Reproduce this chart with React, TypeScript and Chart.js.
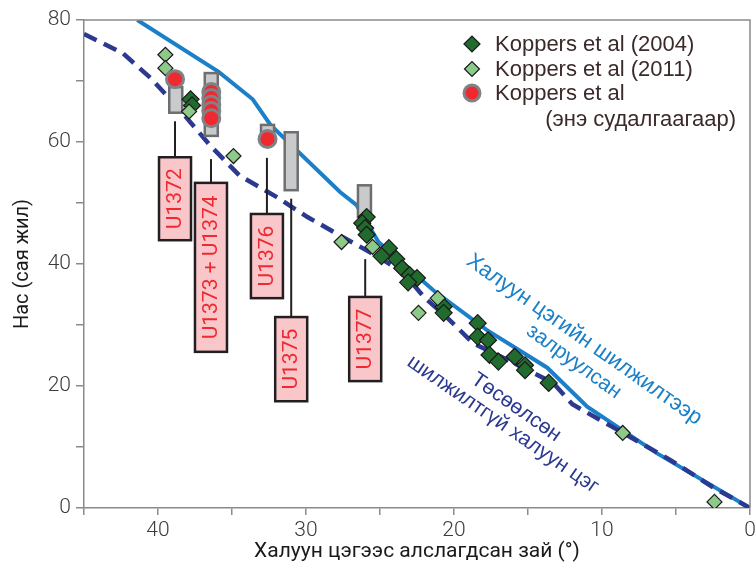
import React, { useEffect, useRef } from 'react';
import { Chart, registerables } from 'chart.js';

Chart.register(...registerables);

// ---- Data (x: distance from hotspot in degrees, y: age in Ma) ----
const hotspotCorrectedX = [41.4, 35.9, 33.6, 32.4, 27.7, 26.6, 25.1, 21.4, 17.8, 13.7, 11.0, 6.3, 0];
const hotspotCorrectedY = [80, 71.5, 67.0, 62.8, 51.8, 49.7, 43.6, 35.7, 29.2, 23.0, 16.6, 9.0, 0];

const fixedHotspotX = [45, 42.4, 40.5, 38.5, 36.5, 34.5, 32.0, 29.9, 27.5, 25.0, 23.4, 22.0, 20.5, 18.7, 16.4, 13.3, 12.0, 9.3, 5.4, 2.5, 0];
const fixedHotspotY = [77.7, 74.6, 70.5, 65.2, 59.5, 54.5, 51.0, 47.7, 44.4, 41.0, 38.5, 34.5, 31.3, 27.0, 24.3, 20.5, 17.0, 13.3, 7.9, 3.4, 0];

const koppers2004X = [37.8, 37.7, 25.9, 26.2, 26.0, 25.9, 24.4, 24.9, 23.9, 23.5, 23.0, 22.5, 23.1, 20.7, 20.7, 18.4, 18.4, 17.7, 17.6, 17.0, 15.9, 15.2, 15.2, 13.6];
const koppers2004Y = [67.0, 66.0, 47.7, 46.7, 45.9, 44.8, 42.6, 41.3, 40.8, 39.3, 38.2, 37.7, 37.0, 33.0, 32.0, 30.3, 28.1, 27.5, 25.1, 24.0, 24.8, 23.4, 22.6, 20.5];

const koppers2011X = [39.5, 39.5, 37.9, 34.9, 27.6, 25.5, 21.1, 22.4, 8.6, 2.4];
const koppers2011Y = [74.3, 72.1, 65.0, 57.7, 43.6, 42.8, 34.4, 32.0, 12.3, 1.0];

const thisStudyX = [38.85, 36.4, 36.4, 36.4, 36.4, 36.4, 32.6];
const thisStudyY = [70.3, 68.2, 67.2, 66.1, 65.1, 63.9, 60.5];

// grey age-range bars
const ageBarX = [38.8, 36.4, 32.6, 31.0, 26.05];
const ageBarTop = [69.0, 71.3, 62.8, 61.6, 52.9];
const ageBarBottom = [64.8, 61.0, 60.0, 52.1, 47.7];

// site call-outs
const siteLabels = ['U1372', 'U1373 + U1374', 'U1376', 'U1375', 'U1377'];
const siteX = [38.85, 36.42, 32.64, 31.0, 26.0];
const siteLineTop = [63.4, 57.2, 57.4, 50.7, 40.8];
const siteBoxTop = [57.5, 53.3, 48.2, 31.3, 34.6];
const siteBoxBottom = [43.9, 25.6, 34.4, 17.5, 20.8];

// curve labels
const curveLabelText = ['Халуун цэгийн шилжилтээр', 'залруулсан', 'Төсөөлсөн', 'шилжилтгүй халуун цэг'];
const curveLabelX = [11.2, 11.9, 15.8, 16.7];
const curveLabelY = [27.6, 24.0, 16.5, 13.7];

const legendLabels = ['Koppers et al (2004)', 'Koppers et al (2011)', 'Koppers et al', '(энэ судалгаагаар)'];

const xTitle = 'Халуун цэгээс алслагдсан зай (°)';
const yTitle = 'Нас (сая жил)';

const toPts = (xs: number[], ys: number[]) => xs.map((x, i) => ({ x, y: ys[i] }));

const BLUE = '#1b80c8';
const NAVY = '#2b3990';
const DARK_GREEN = '#226b2f';
const LIGHT_GREEN = '#8dca8a';
const RED = '#ee2a30';
const AXIS = '#8a8a8a';

function drawDiamond(ctx: CanvasRenderingContext2D, x: number, y: number, r: number, fill: string) {
  ctx.beginPath();
  ctx.moveTo(x - r, y);
  ctx.lineTo(x, y - r);
  ctx.lineTo(x + r, y);
  ctx.lineTo(x, y + r);
  ctx.closePath();
  ctx.fillStyle = fill;
  ctx.fill();
  ctx.strokeStyle = '#1a1a1a';
  ctx.lineWidth = 1.2;
  ctx.stroke();
}

const overlayPlugin = {
  id: 'overlay',
  afterDatasetDraw(chart: any, args: any) {
    if (args.meta.label !== 'fixed') return;
    const { ctx, scales } = chart;
    const xs = scales.x, ys = scales.y;
    ctx.save();
    for (let i = 0; i < ageBarX.length; i++) {
      const cx = xs.getPixelForValue(ageBarX[i]);
      const t = ys.getPixelForValue(ageBarTop[i]);
      const b = ys.getPixelForValue(ageBarBottom[i]);
      const w = 13;
      ctx.fillStyle = '#c9cacc';
      ctx.strokeStyle = '#6d6e70';
      ctx.lineWidth = 2.5;
      ctx.fillRect(cx - w / 2, t, w, b - t);
      ctx.strokeRect(cx - w / 2, t, w, b - t);
    }
    ctx.restore();
  },
  afterDatasetsDraw(chart: any) {
    const { ctx, scales } = chart;
    const xs = scales.x, ys = scales.y;
    ctx.save();
    // call-outs
    for (let i = 0; i < siteLabels.length; i++) {
      const cx = xs.getPixelForValue(siteX[i]);
      const lt = ys.getPixelForValue(siteLineTop[i]);
      const bt = ys.getPixelForValue(siteBoxTop[i]);
      const bb = ys.getPixelForValue(siteBoxBottom[i]);
      const w = 32;
      ctx.strokeStyle = '#231f20';
      ctx.lineWidth = 2;
      ctx.beginPath();
      ctx.moveTo(cx, lt);
      ctx.lineTo(cx, bt);
      ctx.stroke();
      ctx.fillStyle = '#f9c6ca';
      ctx.fillRect(cx - w / 2, bt, w, bb - bt);
      ctx.lineWidth = 2.5;
      ctx.strokeRect(cx - w / 2, bt, w, bb - bt);
      ctx.save();
      ctx.translate(cx, (bt + bb) / 2);
      ctx.rotate(-Math.PI / 2);
      ctx.fillStyle = '#ee2a30';
      ctx.font = '400 21px Roboto, "Liberation Sans", sans-serif';
      ctx.textAlign = 'center';
      ctx.textBaseline = 'middle';
      ctx.fillText(siteLabels[i], 0, 1);
      ctx.restore();
    }
    // curve labels
    const colors = [BLUE, BLUE, NAVY, NAVY];
    const angles = [35, 36, 35, 34.5];
    const sizes = [22, 21, 21, 21];
    for (let i = 0; i < curveLabelText.length; i++) {
      const px = xs.getPixelForValue(curveLabelX[i]);
      const py = ys.getPixelForValue(curveLabelY[i]);
      ctx.save();
      ctx.translate(px, py);
      ctx.rotate((angles[i] * Math.PI) / 180);
      ctx.fillStyle = colors[i];
      ctx.font = sizes[i] + 'px "Liberation Sans", Arial, sans-serif';
      ctx.textAlign = 'center';
      ctx.textBaseline = 'middle';
      ctx.fillText(curveLabelText[i], 0, 0);
      ctx.restore();
    }
    ctx.restore();
  },
  afterDraw(chart: any) {
    const { ctx, chartArea } = chart;
    ctx.save();
    // frame top & right
    ctx.strokeStyle = AXIS;
    ctx.lineWidth = 1.5;
    ctx.beginPath();
    ctx.moveTo(chartArea.left, chartArea.top);
    ctx.lineTo(chartArea.right, chartArea.top);
    ctx.lineTo(chartArea.right, chartArea.bottom);
    ctx.stroke();
    // legend
    const lx = 472;
    const rows = [44, 69, 93];
    drawDiamond(ctx, lx, rows[0], 8, DARK_GREEN);
    drawDiamond(ctx, lx, rows[1], 7.5, LIGHT_GREEN);
    ctx.beginPath();
    ctx.arc(lx, rows[2], 8, 0, Math.PI * 2);
    ctx.fillStyle = RED;
    ctx.fill();
    ctx.strokeStyle = '#808285';
    ctx.lineWidth = 3;
    ctx.stroke();
    ctx.fillStyle = '#3b2a2a';
    ctx.font = '22px "Liberation Sans", Arial, sans-serif';
    ctx.textBaseline = 'middle';
    ctx.textAlign = 'left';
    ctx.fillText(legendLabels[0], 495, rows[0] + 1);
    ctx.fillText(legendLabels[1], 495, rows[1] + 1);
    ctx.fillText(legendLabels[2], 495, rows[2] + 1);
    ctx.textAlign = 'right';
    ctx.fillText(legendLabels[3], 736, 120);
    ctx.restore();
  },
};

export default function App() {
  const ref = useRef<HTMLCanvasElement | null>(null);

  useEffect(() => {
    if (!ref.current) return;
    const tickFont = { family: 'Roboto, "Liberation Sans", sans-serif', size: 21, weight: 300 as any };
    const titleFont = { family: 'Roboto, "Liberation Sans", sans-serif', size: 21, weight: 400 as any };
    const chart = new Chart(ref.current, {
      type: 'scatter',
      data: {
        datasets: [
          {
            label: 'thisStudy',
            data: toPts(thisStudyX, thisStudyY),
            pointStyle: 'circle',
            pointRadius: 8.5,
            backgroundColor: RED,
            borderColor: '#808285',
            borderWidth: 3,
            order: 1,
          },
          {
            label: 'k2011',
            data: toPts(koppers2011X, koppers2011Y),
            pointStyle: 'rectRot',
            pointRadius: 7.5,
            backgroundColor: LIGHT_GREEN,
            borderColor: '#1a1a1a',
            borderWidth: 1.2,
            order: 2,
          },
          {
            label: 'k2004',
            data: toPts(koppers2004X, koppers2004Y),
            pointStyle: 'rectRot',
            pointRadius: 8.5,
            backgroundColor: DARK_GREEN,
            borderColor: '#1a1a1a',
            borderWidth: 1.2,
            order: 3,
          },
          {
            label: 'fixed',
            type: 'line',
            data: toPts(fixedHotspotX, fixedHotspotY),
            borderColor: NAVY,
            borderWidth: 4.5,
            borderDash: [14, 8],
            pointRadius: 0,
            fill: false,
            tension: 0,
            order: 4,
          } as any,
          {
            label: 'corrected',
            type: 'line',
            data: toPts(hotspotCorrectedX, hotspotCorrectedY),
            borderColor: BLUE,
            borderWidth: 4,
            pointRadius: 0,
            fill: false,
            tension: 0,
            order: 5,
          } as any,
        ],
      },
      options: {
        responsive: false,
        animation: false,
        events: [],
        layout: { autoPadding: false, padding: { top: 20, right: 5, left: 0, bottom: 0 } },
        plugins: { legend: { display: false }, tooltip: { enabled: false } },
        scales: {
          x: {
            type: 'linear',
            reverse: true,
            min: 0,
            max: 45,
            afterFit: (s: any) => { s.height = 62; s.paddingLeft = 0; s.paddingRight = 0; },
            ticks: {
              stepSize: 5,
              autoSkip: false,
              maxRotation: 0,
              padding: 3,
              color: '#3c3c3c',
              font: tickFont,
              callback: (v: any) => (Number(v) % 10 === 0 ? String(v) : ''),
            },
            grid: { drawOnChartArea: false, drawTicks: true, tickLength: 7, color: AXIS, lineWidth: 1.5 },
            border: { color: AXIS, width: 1.5 },
            title: { display: true, text: xTitle, color: '#1a1a1a', font: titleFont, padding: { top: 0, bottom: 6 } },
          },
          y: {
            type: 'linear',
            min: 0,
            max: 80,
            afterFit: (s: any) => { s.width = 84; },
            ticks: {
              stepSize: 10,
              autoSkip: false,
              padding: 5,
              color: '#3c3c3c',
              font: tickFont,
              callback: (v: any) => (Number(v) % 20 === 0 ? String(v) : ''),
            },
            grid: { drawOnChartArea: false, drawTicks: true, tickLength: 8, color: AXIS, lineWidth: 1.5 },
            border: { color: AXIS, width: 1.5 },
            title: { display: true, text: yTitle, color: '#1a1a1a', font: { ...titleFont, size: 20 }, padding: { top: 11, bottom: 0 } },
          },
        },
      },
      plugins: [overlayPlugin],
    });
    return () => chart.destroy();
  }, []);

  return (
    <div style={{ position: 'absolute', left: 0, top: 0, width: 755, height: 570, background: '#fff' }}>
      <canvas ref={ref} width={755} height={570} style={{ width: 755, height: 570, display: 'block' }} />
    </div>
  );
}
